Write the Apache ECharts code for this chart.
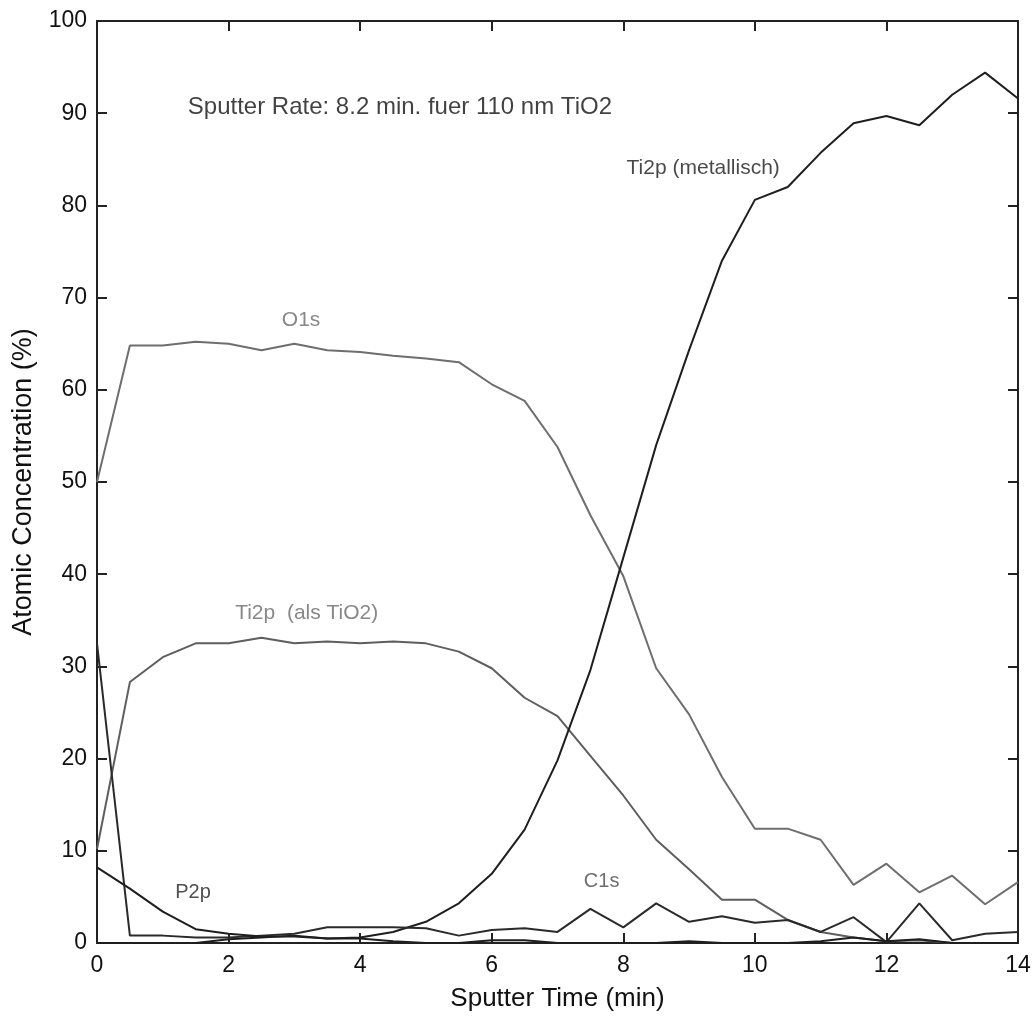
<!DOCTYPE html>
<html>
<head>
<meta charset="utf-8">
<script src="https://cdn.jsdelivr.net/npm/echarts@6/dist/echarts.min.js"></script>
<style>html,body{margin:0;padding:0;background:#fff}#c{width:1035px;height:1018px}</style>
</head>
<body>
<div id="c"></div>
<script>
const time = [0,0.5,1,1.5,2,2.5,3,3.5,4,4.5,5,5.5,6,6.5,7,7.5,8,8.5,9,9.5,10,10.5,11,11.5,12,12.5,13,13.5,14];
const o1s = [50,64.8,64.8,65.2,65.0,64.3,65.0,64.3,64.1,63.7,63.4,63.0,60.6,58.8,53.8,46.4,39.8,29.8,24.8,18.0,12.4,12.4,11.2,6.3,8.6,5.5,7.3,4.2,6.6];
const ti2pOxide = [10.2,28.3,31.0,32.5,32.5,33.1,32.5,32.7,32.5,32.7,32.5,31.6,29.8,26.6,24.6,20.3,16.0,11.2,8.0,4.7,4.7,2.5,1.2,0.6,0.2,0.3,0.0,0.0,0.0];
const ti2pMetal = [0,0,0,0,0.4,0.6,0.8,0.5,0.6,1.2,2.3,4.3,7.5,12.3,19.8,29.6,41.8,54.0,64.3,74.0,80.6,82.0,85.7,88.9,89.7,88.7,92.0,94.4,91.6];
const c1s = [32.5,0.8,0.8,0.6,0.6,0.8,1.0,1.7,1.7,1.7,1.6,0.8,1.4,1.6,1.2,3.7,1.7,4.3,2.3,2.9,2.2,2.5,1.2,2.8,0.1,4.3,0.3,1.0,1.2];
const p2p = [8.2,5.9,3.4,1.5,1.0,0.7,0.7,0.5,0.5,0.2,0,0,0.3,0.3,0,0,0,0,0.2,0,0,0,0.2,0.6,0.2,0.4,0,0,0];
const xTicks = [0,2,4,6,8,10,12,14];
const yTicks = [0,10,20,30,40,50,60,70,80,90,100];
const notes = [
  {t:1.38, v:90.6, text:'Sputter Rate: 8.2 min. fuer 110 nm TiO2', color:'#111', size:24},
  {t:8.05, v:84.0, text:'Ti2p (metallisch)', color:'#1a1a1a', size:21},
  {t:2.81, v:67.5, text:'O1s', color:'#6a6a6a', size:21},
  {t:2.10, v:35.8, text:'Ti2p  (als TiO2)', color:'#6a6a6a', size:21},
  {t:1.19, v:5.5, text:'P2p', color:'#222', size:20},
  {t:7.40, v:6.7, text:'C1s', color:'#4a4a4a', size:20}
];

const FONT = 'Liberation Sans, Arial, sans-serif';
const pair = arr => time.map((t,i)=>[t,arr[i]]);
const lineSeries = (name, arr, color) => ({
  name, type:'line', data:pair(arr), symbol:'none', xAxisIndex:0, yAxisIndex:0,
  lineStyle:{color, width:2}, z:3, animation:false
});
const axisCommon = {
  axisLine:{show:true, onZero:false, lineStyle:{color:'#222', width:2}},
  axisTick:{show:true, inside:true, length:10, lineStyle:{color:'#222', width:2}},
  splitLine:{show:false}
};
const chart = echarts.init(document.getElementById('c'));
chart.setOption({
  backgroundColor:'#fff',
  animation:false,
  grid:{left:97, right:17, top:21, bottom:75, containLabel:false},
  xAxis:[
    Object.assign({type:'value', min:0, max:14, interval:2, position:'bottom',
      name:'Sputter Time (min)', nameLocation:'middle', nameGap:43,
      nameTextStyle:{fontFamily:FONT, fontSize:26, color:'#111'},
      axisLabel:{fontFamily:FONT, fontSize:23, color:'#111', margin:11,
        formatter:v=>xTicks.includes(v)?String(v):''}}, axisCommon),
    Object.assign({type:'value', min:0, max:14, interval:2, position:'top',
      axisLabel:{show:false}}, axisCommon)
  ],
  yAxis:[
    Object.assign({type:'value', min:0, max:100, interval:10, position:'left',
      name:'Atomic Concentration (%)', nameLocation:'middle', nameGap:60,
      nameTextStyle:{fontFamily:FONT, fontSize:27, color:'#111'},
      axisLabel:{fontFamily:FONT, fontSize:23, color:'#111', margin:10,
        formatter:v=>yTicks.includes(v)?String(v):''}}, axisCommon),
    Object.assign({type:'value', min:0, max:100, interval:10, position:'right',
      axisLabel:{show:false}}, axisCommon)
  ],
  series:[
    lineSeries('O1s', o1s, '#6e6e6e'),
    lineSeries('Ti2p (als TiO2)', ti2pOxide, '#5e5e5e'),
    lineSeries('Ti2p (metallisch)', ti2pMetal, '#1e1e1e'),
    lineSeries('C1s', c1s, '#2a2a2a'),
    lineSeries('P2p', p2p, '#1e1e1e'),
    {
      type:'scatter', symbolSize:0, silent:true, z:5,
      data: notes.map(n=>({value:[n.t,n.v], label:{show:true, position:'right', distance:0,
        formatter:n.text, color:n.color, fontSize:n.size, fontFamily:FONT}})),
      label:{show:true}
    }
  ]
});
</script>
</body>
</html>
